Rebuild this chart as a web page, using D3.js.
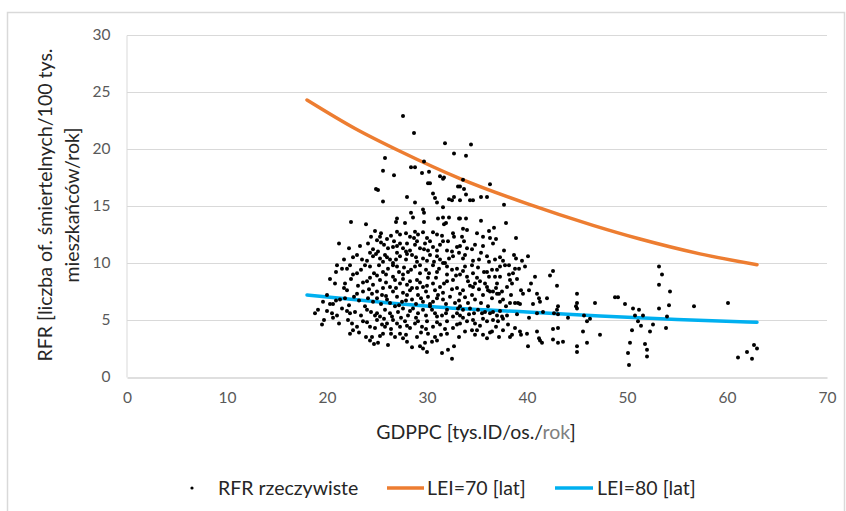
<!DOCTYPE html>
<html><head><meta charset="utf-8">
<script src="https://cdn.jsdelivr.net/npm/d3@7"></script>
<style>
html,body{margin:0;padding:0;background:#fff;}
svg{display:block;font-family:Lato,"Open Sans",sans-serif;}
</style></head>
<body><svg id="c" width="846" height="511"></svg>
<script>
// ---- data ----
const xTicks = [0,10,20,30,40,50,60,70];
const yTicks = [0,5,10,15,20,25,30];
const xTitle = "GDPPC [tys.ID/os./";
const xTitleGray = "rok";
const yTitle1 = "RFR [liczba of. śmiertelnych/100 tys.";
const yTitle2 = "mieszkańców/rok]";
const seriesNames = ["RFR rzeczywiste","LEI=70 [lat]","LEI=80 [lat]"];

// LEI=70 curve (GDPPC, RFR)
const lei70X = [18,22.8,27.3,33.3,40,46.6,51.3,57.3,63];
const lei70Y = [24.3,21.8,19.8,17.4,15.2,13.3,12.1,10.8,9.85];
// LEI=80 curve
const lei80X = [18,25,33.3,40,47.3,55,63];
const lei80Y = [7.2,6.6,6.0,5.7,5.35,5.05,4.8];

// observed RFR points [GDPPC, RFR]
const rfrPoints = [
// upper part
[27.6,22.9],[28.7,21.4],[31.8,20.5],[32.7,19.6],[25.8,19.2],[29.7,18.9],[25.6,18.1],[28.4,18.4],[28.8,18.4],
[29.5,17.9],[30.2,18.0],[26.7,17.7],[31.3,17.6],[31.6,17.4],[31.7,17.5],[33.1,16.7],[30.1,17.0],[30.3,17.0],
[24.9,16.5],[25.1,16.4],[30.6,16.1],[30.8,15.7],[31.0,15.3],[28.0,15.8],[28.8,15.3],[25.6,15.4],[32.2,15.6],
[32.5,15.5],[32.7,15.8],[33.2,13.9],[31.6,14.9],[29.6,14.7],[29.7,14.4],[28.4,14.4],[28.6,14.0],[27.0,13.9],
[26.9,13.6],[27.8,13.5],[31.1,13.9],[31.6,14.0],[32.2,14.0],[29.7,13.6],[22.4,13.6],[23.9,13.4],[31.7,13.4],[31.9,13.5],
// dense core, left half
[25.4,12.6],[25.3,12.3],[26.0,12.1],[27.0,12.75],[27.3,12.5],[27.9,12.6],[28.3,12.3],[28.8,12.75],[28.7,12.2],
[29.6,12.7],[30.6,12.7],[31.5,12.4],[32.6,12.6],[32.7,12.3],[24.4,12.3],[25.0,12.0],[26.7,11.9],[27.3,11.7],
[28.0,11.7],[28.8,11.6],[29.8,11.7],[30.3,11.9],[31.3,11.6],[32.1,11.9],[33.0,11.4],[21.2,11.7],[24.1,11.7],
[25.7,11.6],[26.1,11.3],[26.6,11.4],[27.6,11.3],[28.3,11.1],[29.3,11.3],[30.1,11.1],[31.0,11.1],[32.0,11.1],[32.5,11.0],
[23.0,10.7],[24.3,10.9],[24.6,10.6],[25.1,11.0],[25.3,10.4],[25.8,10.7],[26.3,10.3],[27.0,10.9],[27.3,10.6],
[27.9,10.3],[28.5,10.7],[29.0,10.1],[29.6,10.4],[30.3,10.7],[30.7,10.1],[31.3,10.3],[31.8,10.0],[32.6,10.6],
[33.2,10.9],[23.5,10.3],[25.6,10.1],[26.6,10.0],
[22.3,9.8],[22.0,9.5],[21.5,9.5],[20.9,9.2],[23.4,9.4],[24.3,9.7],[24.7,9.1],[25.2,9.8],[25.6,9.2],[26.1,9.5],
[27.0,9.7],[27.2,9.2],[27.6,9.0],[28.1,9.2],[28.8,9.7],[29.3,9.1],[29.9,9.4],[30.6,9.8],[31.2,9.5],[31.6,10.0],
[32.0,9.0],[32.5,9.4],[33.0,9.5],
[20.8,8.2],[21.8,8.2],[23.6,8.3],[24.3,8.7],[24.6,8.1],[25.3,8.5],[25.6,7.8],[26.3,7.9],[26.8,8.5],[27.3,8.2],
[28.0,8.1],[28.5,7.8],[29.0,8.5],[29.6,7.9],[30.1,8.7],[30.6,8.2],[31.3,7.9],[32.0,8.4],[32.6,8.5],[33.0,7.8],[21.7,7.8],
[21.3,6.8],[21.8,6.9],[22.7,7.05],[23.6,7.5],[24.1,6.9],[24.5,7.3],[25.0,6.9],[25.5,7.2],[26.0,6.8],[26.6,7.5],
[27.0,7.05],[27.5,6.6],[28.0,7.2],[28.5,6.8],[29.1,7.2],[29.6,6.6],[30.1,7.05],[30.6,6.6],[31.1,7.2],[31.6,6.8],
[32.3,7.05],[32.8,6.5],
[20.3,6.4],[20.6,6.4],[19.1,5.9],[18.8,5.6],[20.5,5.6],[21.5,6.0],[22.3,5.6],[22.8,5.7],[24.0,5.9],[24.8,5.4],
[25.3,5.3],[25.8,5.9],[26.3,5.6],[26.8,6.2],[27.1,5.7],[27.6,6.0],[28.1,5.4],[28.6,6.0],[29.1,5.6],[29.6,5.9],
[30.3,6.2],[30.8,5.6],[31.5,5.4],[32.0,5.9],[32.6,5.3],[33.1,6.0],
[19.7,5.0],[19.5,4.6],[20.6,5.2],[22.1,5.0],[22.5,4.7],[23.6,4.9],[24.3,4.4],[25.0,5.0],[25.5,4.6],[26.0,4.7],
[26.6,5.0],[27.3,4.4],[27.8,4.9],[28.3,4.3],[28.8,4.7],[29.5,4.4],[30.0,4.9],[30.6,4.4],[31.3,4.6],[32.0,4.9],[32.6,4.3],
[22.3,3.8],[22.6,4.1],[23.9,3.5],[24.3,3.2],[24.5,3.5],[25.1,3.0],[25.6,3.8],[26.1,2.8],[26.8,3.5],[27.3,3.8],
[27.6,3.4],[28.0,3.1],[29.0,3.5],[29.8,3.0],[30.1,3.8],[30.8,3.5],[31.0,3.2],[32.0,3.8],
[29.3,2.7],[29.6,2.5],[30.0,2.2],[31.5,2.1],[32.1,2.4],[32.7,2.7],[32.5,1.6],
// dense core, additional
[26.4,12.4],[29.1,12.5],[30.0,12.2],[31.0,12.5],[33.5,12.3],[35.0,12.6],[36.2,12.8],[24.8,12.8],
[23.3,11.5],[24.6,11.2],[25.4,11.8],[27.0,11.5],[27.9,11.0],[29.0,11.9],[29.7,11.2],[30.6,11.4],[31.6,11.9],
[33.7,11.9],[35.6,11.5],[36.6,11.7],[22.2,11.3],
[22.6,10.5],[24.0,10.2],[24.9,10.8],[26.0,10.5],[26.9,10.3],[28.0,10.8],[28.9,10.5],[30.0,10.2],[31.0,10.6],
[32.2,10.4],[33.8,10.7],[35.2,10.3],[36.2,10.1],[37.6,10.2],[21.7,10.3],[39.5,10.2],
[21.0,9.8],[23.0,9.1],[23.8,9.8],[25.9,9.0],[26.6,9.8],[27.7,9.6],[28.4,9.4],[29.3,9.8],[30.2,9.1],[31.0,9.2],
[32.0,9.7],[33.6,9.3],[35.1,9.6],[36.5,9.4],[38.6,9.1],[39.8,9.7],[22.6,9.0],
[20.3,8.6],[22.4,8.6],[23.1,8.0],[24.0,8.4],[25.0,8.9],[25.9,8.3],[26.6,8.8],[27.6,8.6],[28.3,8.4],[29.3,8.3],
[30.0,8.0],[30.9,8.7],[31.7,8.2],[32.9,8.9],[35.0,8.7],[37.0,8.2],[39.0,8.6],[40.8,8.8],
[22.0,7.6],[23.0,7.3],[24.2,7.7],[25.0,7.5],[25.9,7.1],[26.9,7.8],[27.6,7.4],[28.3,7.6],[29.0,7.8],[29.9,7.5],
[30.8,7.6],[31.6,7.4],[32.5,7.7],[33.6,7.6],[35.2,7.7],[36.9,7.8],[38.4,7.2],[40.2,7.6],[20.0,7.2],
[19.6,6.6],[20.9,6.7],[22.2,6.3],[23.2,6.7],[23.8,6.2],[24.6,6.6],[25.4,6.4],[26.3,6.5],[27.2,6.3],[27.9,6.7],
[28.9,6.4],[29.4,6.9],[30.3,6.4],[31.0,6.9],[31.9,6.4],[33.2,6.7],[34.1,6.5],[35.4,6.5],[36.1,6.2],[37.9,6.2],[40.6,6.4],
[20.0,5.8],[21.0,5.4],[22.0,5.8],[23.4,5.4],[24.4,5.7],[25.0,5.6],[25.7,5.1],[26.5,5.3],[27.4,5.2],[28.3,5.8],
[28.9,5.2],[29.9,5.4],[30.5,5.9],[31.0,5.3],[31.9,5.6],[33.0,5.6],[34.2,5.5],[35.5,5.6],[37.3,5.8],[39.0,5.5],[41.0,5.6],
[21.2,4.7],[23.0,4.4],[24.0,4.8],[24.8,4.3],[25.8,4.4],[26.4,4.2],[27.0,4.7],[28.0,4.5],[29.1,4.9],[29.9,4.2],
[31.0,4.8],[31.8,4.2],[33.0,4.6],[35.3,4.5],[36.9,4.4],[38.8,4.3],
[23.2,3.9],[25.3,3.6],[26.4,3.8],[27.9,3.7],[29.4,3.9],[30.5,3.1],[31.4,3.7],[33.2,3.5],[36.0,3.4],[24.7,2.9],[28.5,2.6],
// right half
[34.4,20.4],[33.9,19.4],[33.6,17.3],[33.3,16.7],[33.7,16.5],[36.3,16.9],[33.9,16.0],[34.3,15.5],[34.6,15.5],
[35.4,15.8],[36.0,15.8],[33.3,15.5],[37.7,15.1],[33.3,13.9],[33.9,13.9],[35.4,13.7],[37.9,13.5],[33.6,13.0],
[34.0,12.9],[36.7,13.1],[35.6,12.3],[36.3,12.2],[36.9,12.1],[38.9,12.2],[33.3,11.5],[34.0,11.3],[34.8,11.6],
[34.5,11.2],[37.7,11.1],[35.4,10.9],[36.0,10.6],[36.8,10.3],[37.3,10.5],[38.7,10.7],[38.9,10.4],[40.1,10.6],
[33.6,10.4],[34.6,10.2],[34.5,9.8],[37.8,9.8],[38.2,9.8],[37.3,9.7],[37.0,9.4],[33.8,9.7],[38.8,9.5],[39.2,9.5],
[42.3,8.9],[42.6,9.3],[33.3,9.0],[34.0,8.8],[34.6,9.1],[35.7,9.2],[36.0,9.2],[36.2,8.8],[36.8,8.8],[37.3,8.8],
[38.2,9.0],[38.3,8.5],[40.4,8.2],[43.0,8.0],[34.1,8.4],[34.3,8.0],[34.6,7.9],[34.8,8.2],[35.3,8.4],[35.8,8.2],
[36.0,7.9],[36.1,7.6],[36.3,7.5],[36.6,7.5],[37.0,7.3],[37.2,7.3],[37.5,7.5],[38.0,7.9],[38.5,8.2],[39.4,7.6],
[39.6,7.3],[41.0,7.3],[41.2,6.9],[41.3,6.6],[42.0,6.9],[45.0,7.3],[48.8,7.0],[49.1,7.0],[33.3,7.3],[33.8,7.0],
[34.5,7.2],[34.8,6.8],[35.6,7.2],[36.5,6.9],[37.3,6.6],[37.6,6.8],[38.3,6.5],[38.8,6.5],[39.1,6.5],[39.3,6.4],
[43.1,6.2],[43.0,5.9],[44.9,6.2],[45.0,6.0],[45.0,6.5],[46.8,6.5],[49.8,6.4],[50.6,6.0],[33.3,6.2],[33.6,5.9],
[34.3,6.0],[34.7,5.6],[35.1,5.9],[35.8,5.7],[36.3,5.6],[36.6,5.7],[37.0,5.4],[37.5,5.3],[38.0,5.4],[41.6,5.7],
[42.7,5.6],[43.1,5.5],[44.1,5.2],[45.7,5.4],[46.0,4.9],[46.3,5.1],[50.8,5.4],[33.3,5.4],[33.6,5.2],[34.0,4.9],
[34.6,5.0],[34.8,4.7],[35.6,5.1],[36.0,4.9],[36.6,5.0],[37.1,4.9],[37.6,5.1],[38.1,4.6],[40.2,5.2],[33.3,4.7],
[33.8,4.0],[34.5,4.1],[34.8,3.7],[35.0,4.1],[35.6,3.7],[36.3,3.9],[36.5,4.0],[37.6,4.1],[37.2,3.5],[38.5,3.7],
[38.3,3.5],[39.3,4.0],[39.4,3.7],[40.0,3.8],[41.0,4.0],[41.2,3.4],[41.5,3.0],[41.3,3.2],[42.6,4.2],[43.1,4.3],
[42.6,3.3],[43.1,3.0],[43.6,3.1],[45.6,4.0],[46.0,3.0],[47.3,3.7],[40.1,2.7],[45.0,2.7],[45.0,2.2],
// far right
[50.5,4.1],[50.3,3.0],[50.1,2.1],[50.2,1.05],[51.2,5.9],[51.1,4.9],[51.6,5.4],[51.4,4.5],[52.3,4.0],[52.6,4.6],
[51.8,2.9],[52.0,2.4],[52.0,1.8],[53.2,9.7],[53.5,9.0],[53.2,8.1],[54.3,7.5],[54.2,6.3],[53.2,6.0],[54.0,5.3],
[53.9,4.3],[56.7,6.2],[60.1,6.5],[61.1,1.7],[62.0,2.2],[62.5,1.6],[62.7,2.8],[63.0,2.5]
];

// ---- drawing ----
const svg = d3.select("#c");
const W = 846, H = 511;
const m = {left:127, right:19, top:35, bottom:134};
const x = d3.scaleLinear().domain([0,70]).range([m.left, W - m.right]);
const y = d3.scaleLinear().domain([0,30]).range([H - m.bottom, m.top]);

svg.append("rect").attr("x",7.5).attr("y",12.5).attr("width",837).attr("height",510)
  .attr("fill","#fff").attr("stroke","#d9d9d9").attr("stroke-width",1.5);

// gridlines
svg.append("g").selectAll("line").data(yTicks.filter(d=>d>0)).join("line")
  .attr("x1",x(0)).attr("x2",x(70)).attr("y1",d=>Math.round(y(d))+0.5).attr("y2",d=>Math.round(y(d))+0.5)
  .attr("stroke","#d9d9d9").attr("stroke-width",1);

// axes
const xAxis = d3.axisBottom(x).tickValues(xTicks).tickSize(0).tickPadding(14);
const gx = svg.append("g").attr("transform",`translate(0,${Math.round(y(0))+0.5})`).call(xAxis);
gx.select(".domain").attr("stroke","#bfbfbf");
gx.selectAll("text").attr("fill","#595959").attr("font-size",15.5).attr("font-family","Lato");

const yAxis = d3.axisLeft(y).tickValues(yTicks).tickSize(0).tickPadding(16);
const gy = svg.append("g").attr("transform",`translate(${x(0)-0.5},0)`).call(yAxis);
gy.select(".domain").attr("stroke","#d9d9d9");
gy.selectAll("text").attr("fill","#595959").attr("font-size",15.5).attr("font-family","Lato");

// lines
const line = d3.line().x(d=>x(d[0])).y(d=>y(d[1])).curve(d3.curveMonotoneX);
svg.append("path").datum(lei70X.map((v,i)=>[v,lei70Y[i]])).attr("d",line)
  .attr("fill","none").attr("stroke","#ED7D31").attr("stroke-width",3.5).attr("stroke-linecap","round");
svg.append("path").datum(lei80X.map((v,i)=>[v,lei80Y[i]])).attr("d",line)
  .attr("fill","none").attr("stroke","#00B0F0").attr("stroke-width",3.5).attr("stroke-linecap","round");

// points
svg.append("g").selectAll("circle").data(rfrPoints).join("circle")
  .attr("cx",d=>x(d[0])).attr("cy",d=>y(d[1])).attr("r",2).attr("fill","#000");

// axis titles
const xt = svg.append("text").attr("x",476).attr("y",439).attr("text-anchor","middle")
  .attr("font-size",19.5).attr("fill","#262626");
xt.append("tspan").text(xTitle);
xt.append("tspan").attr("fill","#7f7f7f").text(xTitleGray);
xt.append("tspan").text("]");

svg.append("text").attr("transform","translate(52,205) rotate(-90)").attr("text-anchor","middle")
  .attr("font-size",19.5).attr("fill","#262626").text(yTitle1);
svg.append("text").attr("transform","translate(79,205) rotate(-90)").attr("text-anchor","middle")
  .attr("font-size",19.5).attr("fill","#262626").text(yTitle2);

// legend
const ly = 488;
const lg = svg.append("g").attr("font-size",19.5).attr("fill","#262626");
lg.append("circle").attr("cx",192).attr("cy",ly).attr("r",1.6).attr("fill","#000");
lg.append("text").attr("x",218).attr("y",ly+6.5).text(seriesNames[0]);
lg.append("line").attr("x1",387).attr("x2",424).attr("y1",ly).attr("y2",ly).attr("stroke","#ED7D31").attr("stroke-width",3.5);
lg.append("text").attr("x",427).attr("y",ly+6.5).text(seriesNames[1]);
lg.append("line").attr("x1",555).attr("x2",593).attr("y1",ly).attr("y2",ly).attr("stroke","#00B0F0").attr("stroke-width",3.5);
lg.append("text").attr("x",597).attr("y",ly+6.5).text(seriesNames[2]);
</script></body></html>
